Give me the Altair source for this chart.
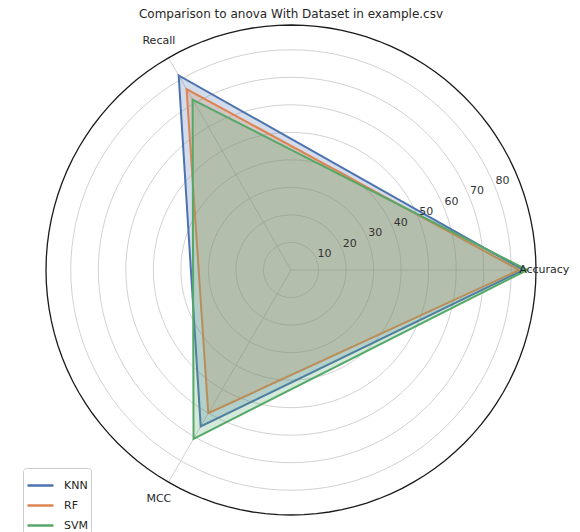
import math
import altair as alt
import pandas as pd

# ---- data ----
title_text = "Comparison to anova With Dataset in example.csv"
metrics = ["Accuracy", "Recall", "MCC"]
models = ["KNN", "RF", "SVM"]
knn = [84.4, 81.6, 65.6]
rf = [82.9, 75.9, 60.1]
svm = [85.8, 71.5, 70.8]
ticks = [10, 20, 30, 40, 50, 60, 70, 80]
colors = ["#4c72b0", "#dd8452", "#55a868"]

R_MAX = 89          # outer radius in data units
LABEL_R = 96        # where the metric names sit
TICK_ANGLE = 22.5   # degrees, radial tick labels
PLOT = 490          # plot area (square)
FONT = "DejaVu Sans"

rows = []
for model, vals in zip(models, [knn, rf, svm]):
    closed_m = metrics + [metrics[0]]
    closed_v = vals + [vals[0]]
    for i, (m, v) in enumerate(zip(closed_m, closed_v)):
        rows.append({"model": model, "metric": m, "value": v, "k": i})
poly_df = pd.DataFrame(rows)
axes_df = pd.DataFrame({"metric": metrics, "k": list(range(len(metrics)))})
tick_df = pd.DataFrame({"tick": ticks})

# circle outlines: every ring sampled around the full turn (geometry only)
steps = list(range(0, 361, 3))
ring_rows = []
for t in ticks + [R_MAX]:
    for s in steps:
        ring_rows.append({"ring": t, "deg": s, "outer": t == R_MAX})
ring_df = pd.DataFrame(ring_rows)
title_df = pd.DataFrame({"t": [title_text]})

xs = alt.Scale(domain=[-R_MAX, R_MAX], nice=False, zero=False)
ys = alt.Scale(domain=[-R_MAX, R_MAX], nice=False, zero=False)
cscale = alt.Scale(domain=models, range=colors)

ring_base = alt.Chart(ring_df).transform_calculate(
    rx="datum.ring * cos(datum.deg * PI / 180)",
    ry="datum.ring * sin(datum.deg * PI / 180)",
)

grid = ring_base.transform_filter("!datum.outer").mark_line(
    color="#cccccc", strokeWidth=0.9
).encode(
    x=alt.X("rx:Q", scale=xs, axis=None),
    y=alt.Y("ry:Q", scale=ys, axis=None),
    detail="ring:N",
    order="deg:Q",
)

outer = ring_base.transform_filter("datum.outer").mark_line(
    color="#1a1a1a", strokeWidth=1.3
).encode(
    x=alt.X("rx:Q", scale=xs, axis=None),
    y=alt.Y("ry:Q", scale=ys, axis=None),
    detail="ring:N",
    order="deg:Q",
)

spokes = alt.Chart(axes_df).transform_calculate(
    ang="datum.k * 2 * PI / 3",
    zx="0", zy="0",
    ex=f"{R_MAX} * cos(datum.ang)",
    ey=f"{R_MAX} * sin(datum.ang)",
).mark_rule(color="#cccccc", strokeWidth=0.9).encode(
    x=alt.X("zx:Q", scale=xs, axis=None),
    y=alt.Y("zy:Q", scale=ys, axis=None),
    x2="ex:Q",
    y2="ey:Q",
)

polys = alt.Chart(poly_df).transform_calculate(
    ang="datum.k * 2 * PI / 3",
    px="datum.value * cos(datum.ang)",
    py="datum.value * sin(datum.ang)",
).mark_line(strokeWidth=2, fillOpacity=0.25, strokeJoin="miter").encode(
    x=alt.X("px:Q", scale=xs, axis=None),
    y=alt.Y("py:Q", scale=ys, axis=None),
    color=alt.Color(
        "model:N",
        scale=cscale,
        legend=alt.Legend(
            title=None,
            orient="none",
            legendX=-23,
            legendY=443,
            fillColor="white",
            strokeColor="#cccccc",
            cornerRadius=3,
            padding=3,
            symbolType="stroke",
            symbolSize=676,
            symbolStrokeWidth=2.5,
            labelFont=FONT,
            labelFontSize=11,
            labelColor="#262626",
            labelOffset=9,
            rowPadding=-7,
        ),
    ),
    fill=alt.Fill("model:N", scale=cscale, legend=None),
    order=alt.Order("k:Q"),
)

tick_text = alt.Chart(tick_df).transform_calculate(
    tx=f"datum.tick * cos({TICK_ANGLE} * PI / 180)",
    ty=f"datum.tick * sin({TICK_ANGLE} * PI / 180)",
    lab="datum.tick + ''",
).mark_text(
    align="left", baseline="bottom", dx=1, font=FONT, fontSize=11, color="#333333"
).encode(
    x=alt.X("tx:Q", scale=xs, axis=None),
    y=alt.Y("ty:Q", scale=ys, axis=None),
    text="lab:N",
)

# the label on the right is pulled in a little so it stays on the page
metric_text = alt.Chart(axes_df).transform_calculate(
    ang="datum.k * 2 * PI / 3",
    lr=f"datum.k == 0 ? {LABEL_R - 4} : {LABEL_R}",
    lx="datum.lr * cos(datum.ang)",
    ly="datum.lr * sin(datum.ang)",
).mark_text(
    align="center", baseline="middle", font=FONT, fontSize=11, color="#262626"
).encode(
    x=alt.X("lx:Q", scale=xs, axis=None),
    y=alt.Y("ly:Q", scale=ys, axis=None),
    text="metric:N",
)

title = alt.Chart(title_df).mark_text(
    align="center", baseline="alphabetic", font=FONT, fontSize=12, color="#262626"
).encode(
    x=alt.value(PLOT / 2),
    y=alt.value(-7),
    text="t:N",
)

chart = (
    alt.layer(grid, spokes, polys, tick_text, outer, metric_text, title)
    .properties(
        width=PLOT,
        height=PLOT,
        autosize=alt.AutoSizeParams(type="none"),
        padding={"left": 38, "top": 17, "right": 36, "bottom": 17},
        view=alt.ViewBackground(stroke="transparent", strokeWidth=0),
    )
    .configure_view(stroke="transparent", strokeWidth=0)
    .configure(background="white")
)

chart.save("out.html", embed_options={"renderer": "svg", "actions": False})
